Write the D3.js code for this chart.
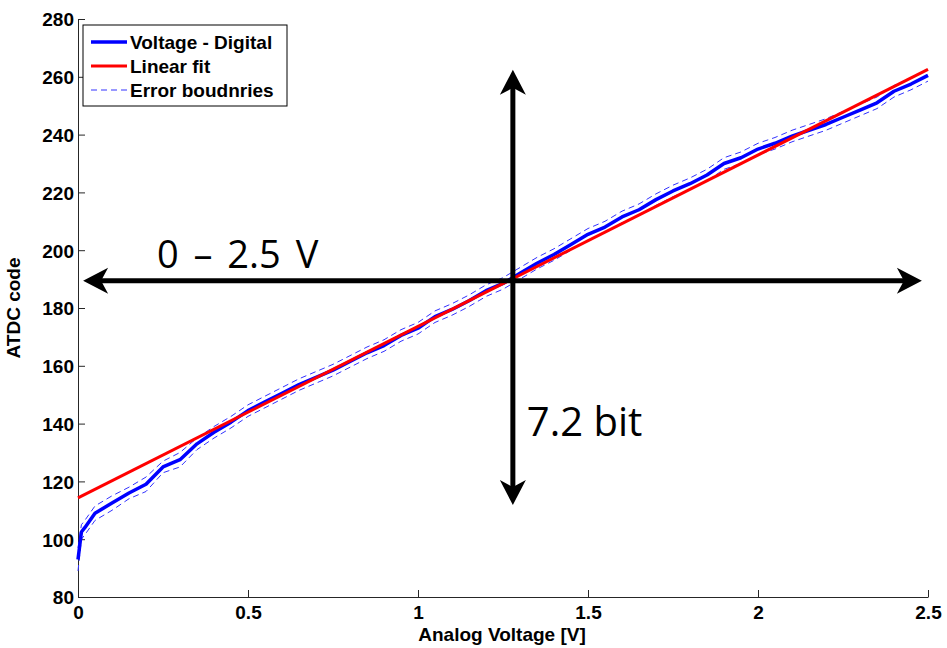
<!DOCTYPE html>
<html>
<head>
<meta charset="utf-8">
<script src="https://cdn.jsdelivr.net/npm/d3@7"></script>
<style>
  body { margin: 0; background: #fff; }
  .axis text { font-family: "Liberation Sans", Arial, sans-serif; font-size: 19px; font-weight: bold; fill: #000; }
  .axis path, .axis line { stroke: #262626; stroke-width: 1; }
</style>
</head>
<body>
<div id="chart"></div>
<script>
// analog voltage samples [V]
var voltage = [0, 0.01, 0.02, 0.05, 0.1, 0.15, 0.2, 0.25, 0.3, 0.35, 0.4, 0.45, 0.5, 0.55, 0.6, 0.65, 0.7, 0.75, 0.8, 0.85, 0.9, 0.95,
  1.0, 1.05, 1.1, 1.15, 1.2, 1.25, 1.3, 1.35, 1.4, 1.45, 1.5, 1.55, 1.6, 1.65, 1.7, 1.75, 1.8, 1.85, 1.9, 1.95,
  2.0, 2.05, 2.1, 2.15, 2.2, 2.25, 2.3, 2.35, 2.4, 2.45, 2.5];
// measured digital code
var digital = [93, 102.5, 104, 109, 112.5, 116, 119, 125, 127.5, 133, 137, 140.5, 144.5, 147.5, 150.5, 153.5, 156, 158.5, 161.5, 164.5, 167, 170.5,
  173, 177, 179.5, 182.5, 186, 188.5, 192, 195.5, 198.5, 202, 205.5, 208, 211.5, 214, 217.5, 220.5, 223, 226, 230, 232,
  235, 237, 239.5, 241.5, 243.5, 246, 248.5, 251, 255, 257.5, 260.5];
// error boundaries
var errUpper = [97, 105, 106.5, 111.5, 115, 118, 121.5, 127, 130, 135, 139, 142.5, 146.5, 149.5, 152.5, 155.5, 158, 160.5, 163.5, 166.5, 169, 172.5,
  175, 179, 181.5, 184.5, 188, 190.5, 194, 197.5, 200.5, 204, 207.5, 210, 213.5, 216, 219.5, 222.5, 225, 228, 232, 234,
  237, 239, 241.5, 243.5, 245.5, 248, 250.5, 253, 257, 259.5, 262.5];
var errLower = [89, 100, 101.5, 106.5, 110, 114, 116.5, 123, 125, 131, 135, 138.5, 142.5, 145.5, 148.5, 151.5, 154, 156.5, 159.5, 162.5, 165, 168.5,
  171, 175, 177.5, 180.5, 184, 186.5, 190, 193.5, 196.5, 200, 203.5, 206, 209.5, 212, 215.5, 218.5, 221, 224, 228, 230,
  233, 235, 237.5, 239.5, 241.5, 244, 246.5, 249, 253, 255.5, 258.5];
// linear fit endpoints
var fitV = [0, 2.5];
var fitCode = [114.3, 262.6];

var xTicks = [0, 0.5, 1, 1.5, 2, 2.5];
var yTicks = [80, 100, 120, 140, 160, 180, 200, 220, 240, 260, 280];
var legendLabels = ['Voltage - Digital', 'Linear fit', 'Error boudnries'];

// annotation arrows (data units)
var hArrow = {v: [0.015, 2.482], code: 189.4};
var vArrow = {v: 1.279, code: [262.4, 111.8]};

var margins = {left: 78, right: 19, top: 19, bottom: 51},
    W = 947, H = 648,
    w = W - margins.left - margins.right,
    h = H - margins.top - margins.bottom;

var svg = d3.select('#chart').append('svg')
    .attr('width', W).attr('height', H)
    .append('g')
    .attr('transform', 'translate(' + margins.left + ',' + margins.top + ')');

var x = d3.scaleLinear().domain([0, 2.5]).range([0, w]);
var y = d3.scaleLinear().domain([80, 280]).range([h, 0]);

var fmt = function(d) { return d3.format('')(d); };

svg.append('g').attr('class', 'x-axis axis')
  .attr('transform', 'translate(0,' + h + ')')
  .call(d3.axisBottom(x).tickValues(xTicks).tickSizeInner(-7).tickSizeOuter(0).tickPadding(5).tickFormat(fmt))
  .call(function(g) { g.selectAll('text').attr('dy', '0.9em'); });

svg.append('g').attr('class', 'y-axis axis')
  .call(d3.axisLeft(y).tickValues(yTicks).tickSizeInner(-7).tickSizeOuter(0).tickPadding(4).tickFormat(fmt))
  .call(function(g) { g.selectAll('text').attr('dy', '0.36em'); });

svg.append('text')
  .attr('x', w / 2 - 1).attr('y', h + 44)
  .style('text-anchor', 'middle')
  .style('font-family', '"Liberation Sans", Arial, sans-serif')
  .style('font-size', '19px').style('font-weight', 'bold')
  .text('Analog Voltage [V]');

svg.append('text')
  .attr('transform', 'rotate(-90)')
  .attr('x', -h / 2).attr('y', -58)
  .style('text-anchor', 'middle')
  .style('font-family', '"Liberation Sans", Arial, sans-serif')
  .style('font-size', '19px').style('font-weight', 'bold')
  .text('ATDC code');

var line = d3.line()
  .x(function(d) { return x(d[0]); })
  .y(function(d) { return y(d[1]); });

function pairs(a, b) { return a.map(function(v, i) { return [v, b[i]]; }); }

svg.append('path').datum(pairs(voltage, errUpper))
  .attr('d', line).attr('fill', 'none')
  .attr('stroke', '#3333ff').attr('stroke-width', 1).attr('stroke-dasharray', '6,4');
svg.append('path').datum(pairs(voltage, errLower))
  .attr('d', line).attr('fill', 'none')
  .attr('stroke', '#3333ff').attr('stroke-width', 1).attr('stroke-dasharray', '6,4');
svg.append('path').datum(pairs(voltage, digital))
  .attr('d', line).attr('fill', 'none')
  .attr('stroke', '#0000ff').attr('stroke-width', 3.5).attr('stroke-linejoin', 'round');
svg.append('path').datum(pairs(fitV, fitCode))
  .attr('d', line).attr('fill', 'none')
  .attr('stroke', '#ff0000').attr('stroke-width', 3);

// arrows: shaft + notched head
function head(tx, ty, dx, dy) {
  // dx,dy unit vector pointing to tip
  var L = 25, hw = 13, notch = 18;
  var px = -dy, py = dx;
  return 'M' + tx + ',' + ty +
    'L' + (tx - dx * L + px * hw) + ',' + (ty - dy * L + py * hw) +
    'L' + (tx - dx * notch) + ',' + (ty - dy * notch) +
    'L' + (tx - dx * L - px * hw) + ',' + (ty - dy * L - py * hw) + 'Z';
}
var ann = svg.append('g');
var hx0 = x(hArrow.v[0]), hx1 = x(hArrow.v[1]), hy = y(hArrow.code);
ann.append('line').attr('x1', hx0 + 10).attr('x2', hx1 - 10).attr('y1', hy).attr('y2', hy)
  .attr('stroke', '#000').attr('stroke-width', 5);
ann.append('path').attr('d', head(hx1, hy, 1, 0)).attr('fill', '#000');
ann.append('path').attr('d', head(hx0, hy, -1, 0)).attr('fill', '#000');
var vx = x(vArrow.v), vy0 = y(vArrow.code[0]), vy1 = y(vArrow.code[1]);
ann.append('line').attr('x1', vx).attr('x2', vx).attr('y1', vy0 + 10).attr('y2', vy1 - 10)
  .attr('stroke', '#000').attr('stroke-width', 5);
ann.append('path').attr('d', head(vx, vy0, 0, -1)).attr('fill', '#000');
ann.append('path').attr('d', head(vx, vy1, 0, 1)).attr('fill', '#000');

ann.append('text')
  .attr('x', x(0.232)).attr('y', y(hArrow.code) - 13)
  .style('font-family', '"Open Sans", sans-serif').style('font-size', '38px')
  .style('word-spacing', '5px')
  .text('0 \u2013 2.5 V');
ann.append('text')
  .attr('x', vx + 14).attr('y', y(135.8))
  .style('font-family', '"Open Sans", sans-serif').style('font-size', '40px')
  .text('7.2 bit');

// legend
var lg = svg.append('g').attr('transform', 'translate(5,6)');
lg.append('rect').attr('width', 204).attr('height', 81)
  .attr('fill', '#fff').attr('stroke', '#000').attr('stroke-width', 1);
var styles = [
  {c: '#0000ff', w: 3.5, d: null},
  {c: '#ff0000', w: 3, d: null},
  {c: '#3333ff', w: 1, d: '6,4'}
];
legendLabels.forEach(function(t, i) {
  var yy = 17 + i * 24;
  lg.append('line').attr('x1', 8).attr('x2', 44).attr('y1', yy).attr('y2', yy)
    .attr('stroke', styles[i].c).attr('stroke-width', styles[i].w)
    .attr('stroke-dasharray', styles[i].d);
  lg.append('text').attr('x', 47).attr('y', yy).attr('dy', '0.36em')
    .style('font-family', '"Liberation Sans", Arial, sans-serif')
    .style('font-size', '19px').style('font-weight', 'bold')
    .text(t);
});
</script>
</body>
</html>
